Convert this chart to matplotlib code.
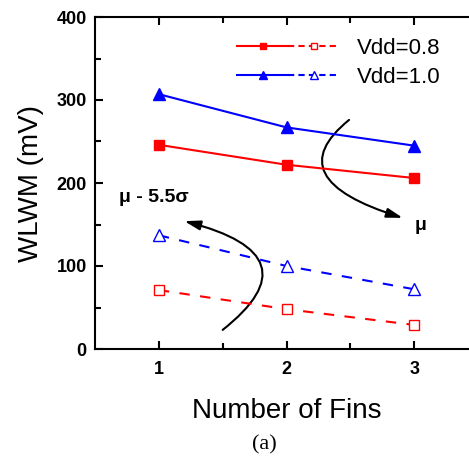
import numpy as np
import matplotlib
matplotlib.use('Agg')
import matplotlib.pyplot as plt
from matplotlib.lines import Line2D
from matplotlib.legend_handler import HandlerTuple
from matplotlib.patches import FancyArrowPatch
from matplotlib.path import Path

# data
fins = [1, 2, 3]
mean_08 = [246, 222, 206]
mean_10 = [307, 267, 245]
low_08 = [71, 48, 29]
low_10 = [137, 100, 72]

# annotation arrows (start, control, end) in data units
arrow_mu = [(2.49, 276), (1.92, 205), (2.91, 158)]
arrow_sigma = [(1.50, 23), (2.24, 113), (1.20, 154)]

plt.rcParams['font.family'] = ['Liberation Sans', 'DejaVu Sans']

fig = plt.figure(figsize=(4.69, 4.59), dpi=100)
ax = fig.add_axes([95 / 469, 1 - 349 / 459, 383 / 469, 332 / 459])

red = '#ff0000'
blue = '#0000ff'

ax.plot(fins, mean_08, color=red, lw=1.5, marker='s', ms=7, mfc=red, mec=red)
ax.plot(fins, mean_10, color=blue, lw=1.5, marker='^', ms=8.5, mfc=blue, mec=blue)
ax.plot(fins, low_08, color=red, lw=1.5, ls=(0, (5, 5)), marker='s', ms=7,
        mfc='white', mec=red, mew=1)
ax.plot(fins, low_10, color=blue, lw=1.5, ls=(0, (5, 5)), marker='^', ms=8.5,
        mfc='white', mec=blue, mew=1)

ax.set_xlim(0.5, 3.5)
ax.set_ylim(0, 400)
ax.set_xticks([1, 2, 3])
ax.set_xticks([1.5, 2.5], minor=True)
ax.set_yticks([0, 100, 200, 300, 400])
ax.set_yticks([50, 150, 250, 350], minor=True)

for s in ['left', 'bottom', 'top']:
    ax.spines[s].set_linewidth(1.5)
ax.spines['right'].set_visible(False)
ax.tick_params(which='both', direction='in', width=1.5, top=True, right=False)
ax.tick_params(which='major', length=6)
ax.tick_params(which='minor', length=4)
ax.tick_params(axis='x', pad=9)
ax.tick_params(axis='y', pad=6)
for lab in ax.get_xticklabels() + ax.get_yticklabels():
    lab.set_fontsize(13)
    lab.set_fontweight('bold')

ax.set_xlabel('Number of Fins', fontsize=20, labelpad=14)
ax.set_ylabel('WLWM (mV)', fontsize=20, labelpad=9)

# legend: solid/filled and dashed/open in one handle
h08 = (Line2D([], [], color=red, lw=1.5, marker='s', ms=5, mfc=red, mec=red),
       Line2D([], [], color=red, lw=1.5, ls=(0, (3, 2)), marker='s', ms=5,
              mfc='white', mec=red, mew=1))
h10 = (Line2D([], [], color=blue, lw=1.5, marker='^', ms=6, mfc=blue, mec=blue),
       Line2D([], [], color=blue, lw=1.5, ls=(0, (3, 2)), marker='^', ms=6,
              mfc='white', mec=blue, mew=1))
ax.legend([h08, h10], ['Vdd=0.8', 'Vdd=1.0'],
          handler_map={tuple: HandlerTuple(ndivide=None, pad=0)},
          loc='upper left', bbox_to_anchor=(0.371, 0.937), borderaxespad=0,
          borderpad=0, frameon=False, fontsize=16, handlelength=4.6,
          handletextpad=0.8, labelspacing=0.36, numpoints=1)

for pts in [arrow_mu, arrow_sigma]:
    path = Path(pts, [Path.MOVETO, Path.CURVE3, Path.CURVE3])
    arr = FancyArrowPatch(path=path,
                          arrowstyle='-|>,head_length=0.6,head_width=0.18',
                          mutation_scale=16, lw=1.5, color='black',
                          transform=ax.transData)
    ax.add_patch(arr)

ax.text(0.96, (349 - 197) / 0.83, '\u03bc - 5.5\u03c3', fontsize=14,
        fontweight='bold', ha='center', va='center')
ax.text(3.05, (349 - 226) / 0.83, '\u03bc', fontsize=14, fontweight='bold',
        ha='center', va='center')

fig.text(264 / 469, 1 - 445 / 459, '(a)', fontsize=16,
         family='Liberation Serif', ha='center', va='center')

fig.savefig('out.png', dpi=100)
